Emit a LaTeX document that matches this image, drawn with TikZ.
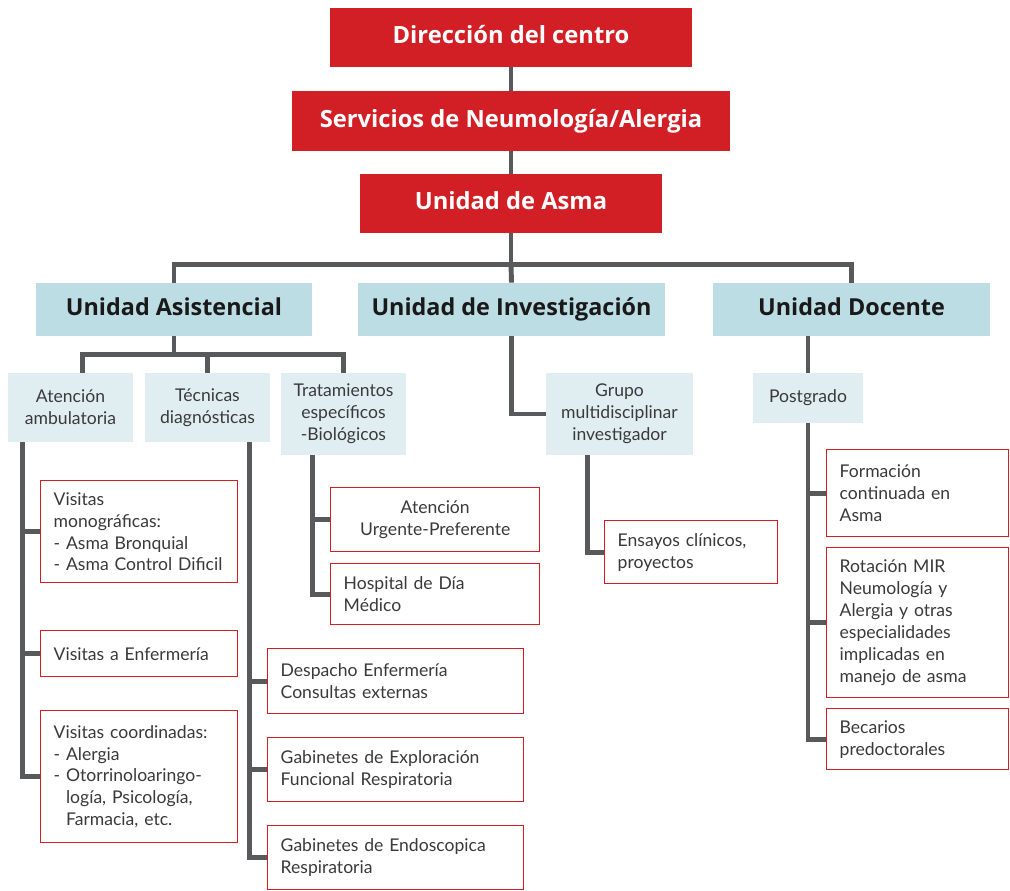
\documentclass[tikz,border=0pt]{standalone}
\usepackage{fontspec}
\setmainfont{Lato}
\newfontfamily\headfont{Open Sans}
\definecolor{asmaRed}{HTML}{D21F26}
\definecolor{unitBlue}{HTML}{BDDDE5}
\definecolor{subBlue}{HTML}{E0EEF2}
\definecolor{lineGrey}{HTML}{58595B}
\definecolor{txtGrey}{HTML}{3A3A3C}
\tikzset{
  head/.style={fill=asmaRed, text=white, font=\headfont\fontsize{13.5}{15}\selectfont\bfseries, minimum height=1.18cm, inner sep=0pt, text height=0.92em, text depth=0.2em},
  unit/.style={fill=unitBlue, text=black!90, font=\headfont\fontsize{13.3}{15}\selectfont\bfseries, minimum height=1.06cm, inner sep=0pt, text height=0.92em, text depth=0.2em},
  sub/.style={fill=subBlue, text=txtGrey, font=\fontsize{10}{12.5}\selectfont, align=center, inner sep=0pt},
  leaf/.style={draw=asmaRed, line width=0.8pt, fill=white, text=txtGrey, anchor=north west, inner xsep=0.26cm, inner ysep=0pt, align=left, font=\fontsize{10}{12.5}\selectfont},
  conn/.style={draw=lineGrey, line width=2.8pt}
}
\begin{document}
\begin{tikzpicture}[x=0.02cm, y=-0.02cm]
\useasboundingbox (0,0) rectangle (1010,891);
\node[head, minimum width=7.24cm] (dir) at (511,37.5) {Dirección del centro};
\node[head, minimum width=8.78cm, minimum height=1.2cm] (serv) at (511,121) {Servicios de Neumología/Alergia};
\node[head, minimum width=6.04cm] (asma) at (511,203.5) {Unidad de Asma};
\node[unit, minimum width=5.52cm] (asist) at (174,309.5) {Unidad Asistencial};
\node[unit, minimum width=6.14cm] (inv) at (511.5,309.5) {Unidad de Investigación};
\node[unit, minimum width=5.54cm] (doc) at (851.5,309.5) {Unidad Docente};
\node[sub, minimum width=2.5cm, minimum height=1.38cm] (amb) at (70.5,407.5) {Atención\\ambulatoria};
\node[sub, minimum width=2.5cm, minimum height=1.38cm] (tec) at (207.5,407.5) {Técnicas\\diagnósticas};
\node[sub, minimum width=2.5cm, minimum height=1.64cm] (tra) at (343.5,414) {Tratamientos\\específicos\\-Biológicos};
\node[sub, minimum width=2.94cm, minimum height=1.64cm] (grupo) at (619.5,414) {Grupo\\multidisciplinar\\investigador};
\node[sub, minimum width=2.2cm, minimum height=1cm] (post) at (808,398) {Postgrado};
\node[leaf, text width=3.42cm, minimum height=2.04cm] (mono) at (40,480) {Visitas\\monográficas:\\- Asma Bronquial\\- Asma Control Dificil};
\node[leaf, text width=3.42cm, minimum height=0.92cm] (enf) at (40,630) {Visitas a Enfermería};
\node[leaf, text width=3.42cm, minimum height=2.64cm] (coord) at (40,710) {Visitas coordinadas:\\- Alergia\\- Otorrinoloaringo-\\\hphantom{- }logía, Psicología,\\\hphantom{- }Farmacia, etc.};
\node[leaf, text width=4.6cm, minimum height=1.3cm] (desp) at (267,648) {Despacho Enfermería\\Consultas externas};
\node[leaf, text width=4.6cm, minimum height=1.28cm] (expl) at (267,737) {Gabinetes de Exploración\\Funcional Respiratoria};
\node[leaf, text width=4.6cm, minimum height=1.28cm] (endo) at (267,825) {Gabinetes de Endoscopica\\Respiratoria};
\node[leaf, text width=3.66cm, minimum height=1.28cm, align=center] (urg) at (330,487) {Atención\\Urgente-Preferente};
\node[leaf, text width=3.66cm, minimum height=1.22cm] (hosp) at (330,563) {Hospital de Día\\Médico};
\node[leaf, text width=2.94cm, minimum height=1.26cm] (ens) at (604,520) {Ensayos clínicos,\\proyectos};
\node[leaf, text width=3.12cm, minimum height=1.74cm] (form) at (826,449) {Formación\\continuada en\\Asma};
\node[leaf, text width=3.12cm, minimum height=3cm] (rot) at (826,547) {Rotación MIR\\Neumología y\\Alergia y otras\\especialidades\\implicadas en\\manejo de asma};
\node[leaf, text width=3.12cm, minimum height=1.22cm] (bec) at (826,708) {Becarios\\predoctorales};
\draw[conn] (dir) -- (serv) -- (asma);
\draw[conn] (asma.south) -- ++(0,31) coordinate (uJ);
\draw[conn] (asist.north) |- (uJ) -| (doc.north);
\draw[conn] (uJ) -- (inv.north);
\draw[conn] (asist.south) -- ++(0,18) coordinate (asJ);
\draw[conn] (amb.north) ++(12,0) |- (asJ);
\draw[conn] (tec.north) |- (asJ);
\draw[conn] (tra.north) |- (asJ);
\draw[conn] (inv.south) |- (grupo.west);
\draw[conn] (post.north) -- (post.north |- doc.south);
\path (amb.south west) ++(15,0) coordinate (ambT);
\draw[conn] (ambT) |- (coord.west);
\draw[conn] (mono.west) -- (mono.west -| ambT);
\draw[conn] (enf.west) -- (enf.west -| ambT);
\path (tec.south east) ++(-21,0) coordinate (tecT);
\draw[conn] (tecT) |- (endo.west);
\draw[conn] (desp.west) -- (desp.west -| tecT);
\draw[conn] (expl.west) -- (expl.west -| tecT);
\path (tra.south west) ++(32,0) coordinate (traT);
\draw[conn] (traT) |- (hosp.west);
\draw[conn] (urg.west) -- (urg.west -| traT);
\path (grupo.south west) ++(42,0) coordinate (grupoT);
\draw[conn] (grupoT) |- (ens.west);
\draw[conn] (post.south) |- (bec.west);
\draw[conn] (form.west) -- (form.west -| post.south);
\draw[conn] (rot.west) -- (rot.west -| post.south);
\end{tikzpicture}
\end{document}
